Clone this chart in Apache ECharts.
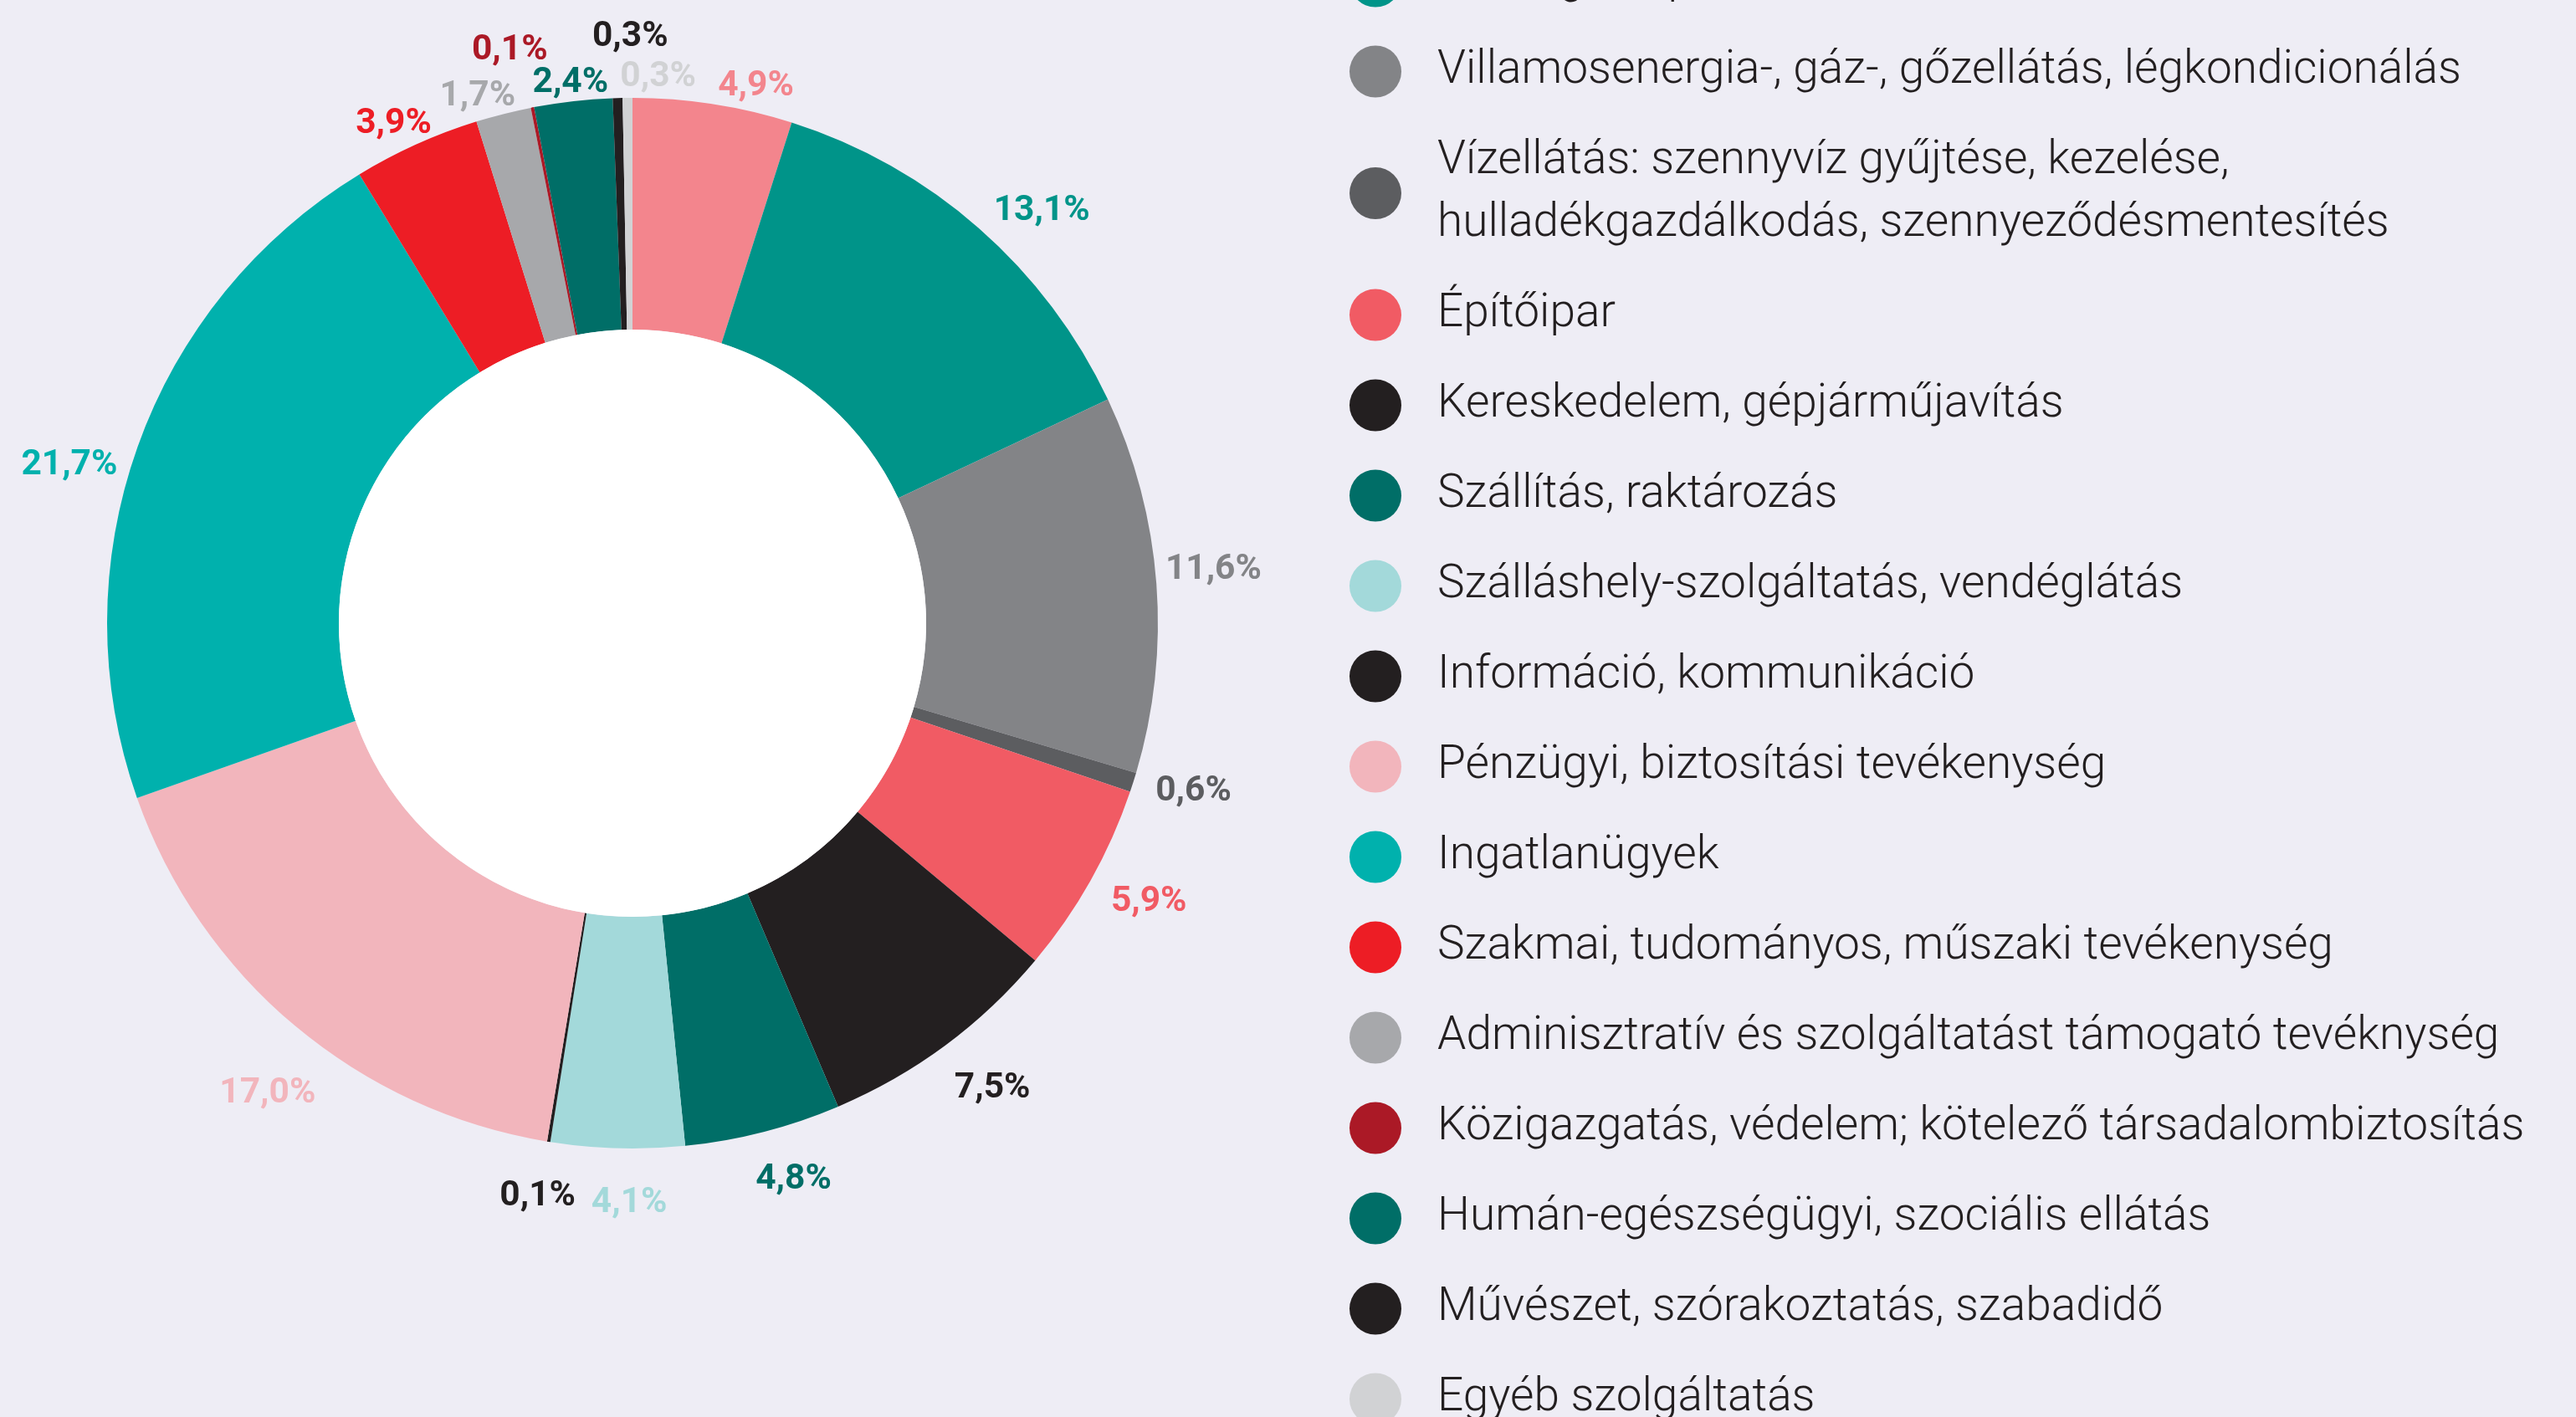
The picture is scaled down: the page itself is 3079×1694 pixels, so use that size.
<!DOCTYPE html>
<html>
<head>
<meta charset="utf-8">
<script src="https://cdn.jsdelivr.net/npm/echarts@6/dist/echarts.min.js"></script>
<style>
  html, body { margin: 0; padding: 0; background: #eeedf5; }
  #chart { width: 3079px; height: 1694px; }
</style>
</head>
<body>
<div id="chart"></div>
<script>
// ---- data ----
const categories = [
  'Mezőgazdaság, erdőgazdálkodás, halászat',
  'Feldolgozóipar',
  'Villamosenergia-, gáz-, gőzellátás, légkondicionálás',
  'Vízellátás: szennyvíz gyűjtése, kezelése, hulladékgazdálkodás, szennyeződésmentesítés',
  'Építőipar',
  'Kereskedelem, gépjárműjavítás',
  'Szállítás, raktározás',
  'Szálláshely-szolgáltatás, vendéglátás',
  'Információ, kommunikáció',
  'Pénzügyi, biztosítási tevékenység',
  'Ingatlanügyek',
  'Szakmai, tudományos, műszaki tevékenység',
  'Adminisztratív és szolgáltatást támogató tevéknység',
  'Közigazgatás, védelem; kötelező társadalombiztosítás',
  'Humán-egészségügyi, szociális ellátás',
  'Művészet, szórakoztatás, szabadidő',
  'Egyéb szolgáltatás'
];
const shares = [4.9, 13.1, 11.6, 0.6, 5.9, 7.5, 4.8, 4.1, 0.1, 17.0, 21.7, 3.9, 1.7, 0.1, 2.4, 0.3, 0.3];
const sliceColors = [
  '#f3858d', '#009489', '#838487', '#5c5d60', '#f15b64', '#231f20', '#006e67', '#a3d9da',
  '#231f20', '#f2b5bc', '#00b1ad', '#ed1d25', '#a7a8ab', '#ab1926', '#006e67', '#231f20', '#d1d2d4'
];

// ---- layout ----
const CX = 756, CY = 745, R_IN = 351, R_OUT = 628;
const LABEL_R = 698, LABEL_SHIFT = -1.5, LABEL_DY = 7;
// manual label nudges (radius, angle shift in degrees) as in the original
const labelTweak = {
  0: [665, 4], 1: [699, 3.2], 6: [686, -1.9], 7: [686, -1.3], 8: [688, 0.3],
  9: [706, -1.8], 10: [701, -3.4], 11: [668, -1], 12: [663, -2], 13: [707, -1],
  14: [657, 0], 15: [708, 1.4], 16: [660, 3.2]
};

const total = shares.reduce((a, b) => a + b, 0);
const cum = [];
shares.reduce((acc, v, i) => { cum[i] = acc; return acc + v; }, 0);

const fmt = v => v.toFixed(1).replace('.', ',') + '%';

const pieData = categories.map((name, i) => ({
  name: name,
  value: shares[i],
  itemStyle: { color: sliceColors[i] },
  label: { color: sliceColors[i] }
}));

const chart = echarts.init(document.getElementById('chart'), null, { renderer: 'canvas' });
chart.setOption({
  backgroundColor: '#eeedf5',
  animation: false,
  legend: {
    type: 'plain',
    orient: 'vertical',
    left: 1613,
    top: -168,
    height: 2600,
    padding: 0,
    itemGap: 33,
    itemWidth: 62,
    itemHeight: 62,
    icon: 'circle',
    selectedMode: false,
    data: categories,
    formatter: name => name.replace('kezelése, ', 'kezelése,\n'),
    textStyle: {
      fontFamily: 'Roboto',
      fontWeight: 300,
      fontSize: 55,
      lineHeight: 75,
      color: '#231f20',
      padding: [0, 0, 0, 38]
    }
  },
  series: [
    {
      type: 'pie',
      center: [CX, CY],
      radius: [R_IN, R_OUT],
      startAngle: 90,
      clockwise: true,
      avoidLabelOverlap: false,
      silent: true,
      itemStyle: { borderWidth: 0 },
      emphasis: { disabled: true },
      label: {
        show: true,
        position: 'outside',
        fontFamily: 'Roboto',
        fontWeight: 'bold',
        fontSize: 42.5,
        formatter: p => fmt(p.value)
      },
      labelLine: { show: false },
      labelLayout: function (params) {
        const i = params.dataIndex;
        const t = labelTweak[i] || [LABEL_R, LABEL_SHIFT];
        const mid = (cum[i] + shares[i] / 2) / total * 360 + t[1];
        const a = mid * Math.PI / 180;
        return {
          x: CX + t[0] * Math.sin(a),
          y: CY - t[0] * Math.cos(a) + LABEL_DY,
          align: 'center',
          verticalAlign: 'middle'
        };
      },
      data: pieData
    },
    {
      type: 'pie',
      center: [CX, CY],
      radius: [0, R_IN],
      silent: true,
      label: { show: false },
      labelLine: { show: false },
      emphasis: { disabled: true },
      itemStyle: { color: '#ffffff', borderWidth: 0 },
      data: [{ name: 'hole', value: 1 }]
    }
  ]
});
</script>
</body>
</html>
